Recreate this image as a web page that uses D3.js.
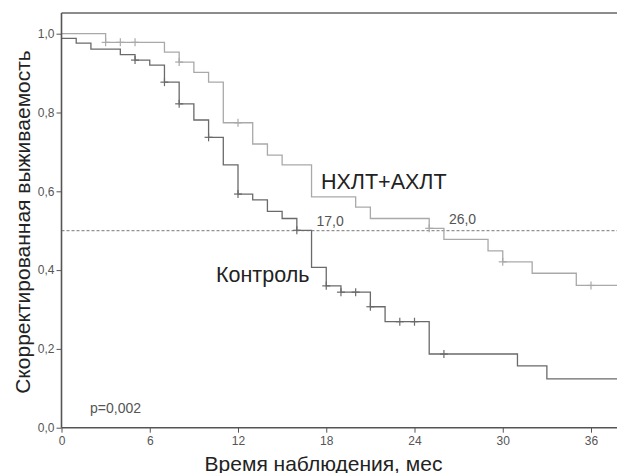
<!DOCTYPE html>
<html>
<head>
<meta charset="utf-8">
<script src="https://cdnjs.cloudflare.com/ajax/libs/d3/7.8.5/d3.min.js"></script>
<style>
  body { margin: 0; background: #fff; }
  svg { display: block; font-family: "Liberation Sans", Arial, sans-serif; }
  .tick text { fill: #555; font-size: 12px; }
  .tick line { stroke: #555; }
</style>
</head>
<body>
<div id="vis"></div>
<script>
// Kaplan-Meier steps: event times (months) and survival after the step
const treatTimes = [0, 3, 7, 8, 9, 10, 11, 13, 14, 15, 17, 20, 21, 25, 26, 29, 30, 32, 35]
const treatSurv  = [1.0, 0.978, 0.953, 0.928, 0.902, 0.877, 0.774, 0.72, 0.692, 0.667, 0.586, 0.56, 0.531, 0.506, 0.478, 0.449, 0.421, 0.392, 0.361]
const treatCensor = [3, 4, 5, 8, 12, 25, 30, 36]

const ctrlTimes = [0, 1, 2, 4, 5, 6, 7, 8, 9, 10, 11, 12, 13, 14, 15, 16, 17, 18, 19, 21, 22, 25, 31, 33]
const ctrlSurv  = [0.988, 0.976, 0.961, 0.947, 0.933, 0.92, 0.877, 0.822, 0.781, 0.737, 0.667, 0.593, 0.578, 0.549, 0.531, 0.501, 0.407, 0.36, 0.344, 0.307, 0.269, 0.187, 0.157, 0.124]
const ctrlCensor = [5, 7, 8, 10, 12, 16, 18, 19, 20, 21, 23, 24, 26]

const xTicks = [0, 6, 12, 18, 24, 30, 36]
const yTicks = [0, 0.2, 0.4, 0.6, 0.8, 1.0]
const medians = [{t: 17, label: "17,0"}, {t: 26, label: "26,0"}]

const width = 617, height = 473;
const plotLeft = 61.5, plotTop = 13, plotBottom = 427.7;
const tMax = 38;

const svg = d3.select('#vis').append('svg')
    .attr('width', width)
    .attr('height', height);

const x = d3.scaleLinear().domain([0, 36]).range([plotLeft, 591]);
const y = d3.scaleLinear().domain([0, 1]).range([plotBottom, 33.7]);

// survival value at time t (step function)
function survAt(times, surv, t) {
    let s = surv[0];
    for (let i = 0; i < times.length; i++) if (times[i] <= t) s = surv[i];
    return s;
}

// frame
svg.append('line')
    .attr('x1', plotLeft).attr('x2', width)
    .attr('y1', plotTop).attr('y2', plotTop)
    .attr('stroke', '#666').attr('stroke-width', 1.5);

// reference line at 0.5
svg.append('line')
    .attr('x1', plotLeft).attr('x2', width)
    .attr('y1', y(0.5)).attr('y2', y(0.5))
    .attr('stroke', '#777').attr('stroke-width', 1)
    .attr('stroke-dasharray', '3,2');

const stepLine = d3.line()
    .x(d => x(d[0]))
    .y(d => y(d[1]))
    .curve(d3.curveStepAfter);

function drawCurve(times, surv, censor, color) {
    const pts = times.map((t, i) => [t, surv[i]]);
    pts.push([tMax, surv[surv.length - 1]]);
    svg.append('path')
        .attr('d', stepLine(pts))
        .attr('fill', 'none')
        .attr('stroke', color)
        .attr('stroke-width', 1.3);

    const marks = svg.append('g');
    censor.forEach(t => {
        const cx = x(t), cy = y(survAt(times, surv, t));
        marks.append('line')
            .attr('x1', cx).attr('x2', cx)
            .attr('y1', cy - 4).attr('y2', cy + 4)
            .attr('stroke', color).attr('stroke-width', 1.2);
        marks.append('line')
            .attr('x1', cx - 4).attr('x2', cx + 4)
            .attr('y1', cy).attr('y2', cy)
            .attr('stroke', color).attr('stroke-width', 1.2);
    });
}

drawCurve(treatTimes, treatSurv, treatCensor, '#a9a9a9');
drawCurve(ctrlTimes, ctrlSurv, ctrlCensor, '#6a6a6a');

// axes
const fmt = d => d3.format('.1f')(d).replace('.', ',');

const yAxis = svg.append('g')
    .attr('transform', `translate(${plotLeft},0)`)
    .call(d3.axisLeft(y).tickValues(yTicks).tickFormat(fmt).tickSize(5).tickPadding(2));
yAxis.select('.domain').remove();

const xAxis = svg.append('g')
    .attr('transform', `translate(0,${plotBottom})`)
    .call(d3.axisBottom(x).tickValues(xTicks).tickSize(5).tickPadding(4));
xAxis.select('.domain').remove();

svg.append('line')
    .attr('x1', plotLeft).attr('x2', plotLeft)
    .attr('y1', plotTop).attr('y2', plotBottom)
    .attr('stroke', '#555').attr('stroke-width', 1.6);
svg.append('line')
    .attr('x1', plotLeft).attr('x2', width)
    .attr('y1', plotBottom).attr('y2', plotBottom)
    .attr('stroke', '#555').attr('stroke-width', 1.6);

// median labels
svg.selectAll('.median')
    .data(medians)
    .join('text')
    .attr('class', 'median')
    .attr('x', d => x(d.t) + 5)
    .attr('y', (d, i) => i === 0 ? 226 : 223.5)
    .attr('fill', '#555')
    .style('font-size', '14px')
    .text(d => d.label);

// curve labels
svg.append('text')
    .attr('x', 321).attr('y', 188.5)
    .attr('fill', '#222')
    .style('font-size', '21.5px')
    .text('НХЛТ+АХЛТ');

svg.append('text')
    .attr('x', 216).attr('y', 282)
    .attr('fill', '#222')
    .style('font-size', '21.5px')
    .text('Контроль');

svg.append('text')
    .attr('x', 90).attr('y', 413)
    .attr('fill', '#555')
    .style('font-size', '14px')
    .text('p=0,002');

// axis titles
svg.append('text')
    .attr('x', 323.5)
    .attr('y', 470.5)
    .attr('text-anchor', 'middle')
    .attr('fill', '#222')
    .style('font-size', '21px')
    .text('Время наблюдения, мес');

svg.append('text')
    .attr('transform', 'rotate(-90)')
    .attr('x', -222)
    .attr('y', 29.5)
    .attr('text-anchor', 'middle')
    .attr('fill', '#222')
    .style('font-size', '21px')
    .text('Скорректированная выживаемость');
</script>
</body>
</html>
